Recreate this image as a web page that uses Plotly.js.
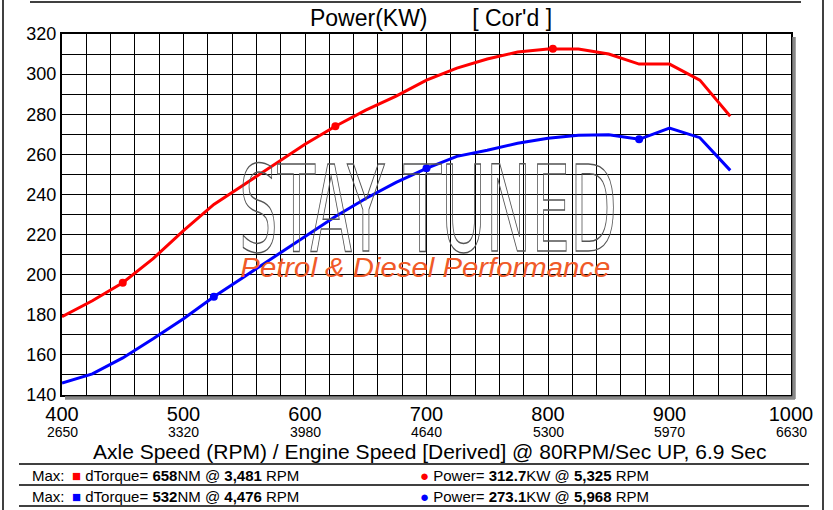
<!DOCTYPE html>
<html>
<head>
<meta charset="utf-8">
<script src="https://cdn.plot.ly/plotly-3.0.1.min.js"></script>
<style>
  html, body { margin: 0; padding: 0; background: #fff; }
  #plot { width: 833px; height: 510px; }
</style>
</head>
<body>
<div id="plot"></div>
<script>
// axle speed (rpm) where the run was sampled
var axleRpm = [400, 425, 450, 475, 500, 525, 550, 575, 600, 625, 650, 675,
               700, 725, 750, 775, 800, 825, 850, 875, 900, 925, 950];
// power (kW)
var powerRed = [179, 187, 196, 208, 222, 235, 245, 255, 265, 274, 282, 289,
                297, 303, 307.5, 311, 312.5, 312.5, 310, 305, 305, 297, 279];
// power (kW)
var powerBlue = [146, 150.5, 158.5, 168, 178, 189, 199, 209, 219, 229, 238, 246,
                 253, 259, 262, 265.5, 268, 269.5, 269.8, 267.5, 273.1, 268.3, 252];

// the dots sitting on each curve
var dotRpmRed = [450, 625, 804];
var dotKwRed = [196, 274, 312.7];
var dotRpmBlue = [525, 700, 875];
var dotKwBlue = [189, 253, 267.5];

// axis ticks
var axleTicks = [400, 500, 600, 700, 800, 900, 1000];
var engineTicks = ['2650', '3320', '3980', '4640', '5300', '5970', '6630'];
var kwTicks = [140, 160, 180, 200, 220, 240, 260, 280, 300, 320];

// max table under the chart
var maxTorque = ['658', '532'];
var maxTorqueRpm = ['3,481', '4,476'];
var maxPower = ['312.7', '273.1'];
var maxPowerRpm = ['5,325', '5,968'];
var runColors = ['#ff0000', '#0000ff'];

// plot box in pixels, used to place things outside it
var L = 62, R = 791, T = 34, B = 395;
function px(x) { return (x - L) / (R - L); }
function py(y) { return (B - y) / (B - T); }

var traces = [
  { x: axleRpm, y: powerRed, mode: 'lines', line: { color: runColors[0], width: 3 }, hoverinfo: 'skip' },
  { x: axleRpm, y: powerBlue, mode: 'lines', line: { color: runColors[1], width: 3 }, hoverinfo: 'skip' },
  { x: dotRpmRed, y: dotKwRed, mode: 'markers', marker: { color: runColors[0], size: 8 }, hoverinfo: 'skip' },
  { x: dotRpmBlue, y: dotKwBlue, mode: 'markers', marker: { color: runColors[1], size: 8 }, hoverinfo: 'skip' }
];

var font = 'Liberation Sans, Arial, sans-serif';

function note(text, x, y, size, extra) {
  var a = { text: text, x: x, y: y, xref: 'paper', yref: 'paper', xanchor: 'center', yanchor: 'middle',
            showarrow: false, font: { family: font, size: size, color: '#000' } };
  for (var k in extra) a[k] = extra[k];
  return a;
}

var annotations = [
  note('STAY TUNED', px(428), py(209), 61, { font: { family: 'DejaVu Sans, sans-serif', size: 61, color: '#666' } }),
  note('<i>Petrol &amp; Diesel Performance</i>', px(425), py(268), 27, { font: { family: font, size: 27, color: '#f05a28' } }),
  note('Axle Speed (RPM) / Engine Speed [Derived] @ 80RPM/Sec UP, 6.9 Sec', px(430), py(451), 21)
];

// engine speed printed under each axle tick
engineTicks.forEach(function (t, i) {
  annotations.push(note(t, axleTicks[i], py(432), 14, { xref: 'x' }));
});

var shapes = [
  // frame round the page
  { type: 'line', xref: 'paper', yref: 'paper', x0: px(30), x1: px(801), y0: py(2), y1: py(2), line: { color: '#000', width: 1.5 } },
  { type: 'line', xref: 'paper', yref: 'paper', x0: px(3), x1: px(3), y0: py(0), y1: py(510), line: { color: '#000', width: 1.5 } },
  { type: 'line', xref: 'paper', yref: 'paper', x0: px(823), x1: px(823), y0: py(0), y1: py(510), line: { color: '#000', width: 1.5 } },
  // shadow of the plot box
  { type: 'line', xref: 'paper', yref: 'paper', x0: px(R + 3), x1: px(R + 3), y0: py(T + 3), y1: py(B + 4), line: { color: '#888', width: 3.5 } },
  { type: 'line', xref: 'paper', yref: 'paper', x0: px(L + 3), x1: px(R + 4), y0: py(B + 3), y1: py(B + 3), line: { color: '#888', width: 3.5 } },
  // rules of the max table
  { type: 'line', xref: 'paper', yref: 'paper', x0: px(19), x1: px(809), y0: py(464), y1: py(464), line: { color: '#000', width: 1.5 } },
  { type: 'line', xref: 'paper', yref: 'paper', x0: px(19), x1: px(809), y0: py(485), y1: py(485), line: { color: '#000', width: 1.5 } },
  { type: 'line', xref: 'paper', yref: 'paper', x0: px(19), x1: px(809), y0: py(506), y1: py(506), line: { color: '#000', width: 1.5 } }
];

for (var i = 0; i < 2; i++) {
  var rowY = py(475 + i * 21);
  annotations.push(
    note('Max:', px(30), rowY, 15, { xanchor: 'left' }),
    note('<span style="color:' + runColors[i] + '">\u25A0</span> dTorque= <b>' + maxTorque[i] + '</b>NM @ <b>' +
         maxTorqueRpm[i] + '</b> RPM', px(70), rowY, 15, { xanchor: 'left' }),
    note('<span style="color:' + runColors[i] + '">\u25CF</span> Power= <b>' + maxPower[i] + '</b>KW @ <b>' +
         maxPowerRpm[i] + '</b> RPM', px(418), rowY, 15, { xanchor: 'left' })
  );
}

var layout = {
  width: 833, height: 510,
  margin: { l: L, r: 833 - R, t: T, b: 510 - B },
  paper_bgcolor: '#fff', plot_bgcolor: '#fff',
  showlegend: false,
  font: { family: font, color: '#000' },
  title: { text: 'Power(KW)\u00a0\u00a0\u00a0\u00a0\u00a0\u00a0\u00a0[ Cor\'d ]', x: px(431), xref: 'paper', xanchor: 'center',
           y: 1 - 18 / 510, yanchor: 'middle', font: { family: font, size: 23, color: '#000' } },
  xaxis: {
    range: [400, 1000], tickvals: axleTicks, ticks: '',
    tickfont: { family: font, size: 20, color: '#000' },
    showgrid: true, gridcolor: '#000', gridwidth: 1,
    minor: { dtick: 20, showgrid: true, gridcolor: '#000', gridwidth: 1 },
    showline: true, linecolor: '#000', linewidth: 2, mirror: true, zeroline: false
  },
  yaxis: {
    range: [140, 320], tickvals: kwTicks, ticks: '',
    tickfont: { family: font, size: 18, color: '#000' },
    showgrid: true, gridcolor: '#000', gridwidth: 1,
    minor: { dtick: 10, showgrid: true, gridcolor: '#000', gridwidth: 1 },
    showline: true, linecolor: '#000', linewidth: 2, mirror: true, zeroline: false
  },
  shapes: shapes,
  annotations: annotations
};

Plotly.newPlot('plot', traces, layout, { staticPlot: true }).then(function (gd) {
  gd.querySelectorAll('.annotation-text').forEach(function (t) {
    if (t.textContent === 'STAY TUNED') {
      // watermark: outlined letters stretched tall like the logo
      var bb = t.getBBox();
      var cy = bb.y + bb.height / 2, k = 1.95;
      t.setAttribute('transform', 'translate(0,' + (cy * (1 - k)) + ') scale(1,' + k + ')');
      t.style.fill = 'none';
      t.style.stroke = '#555';
      t.style.strokeWidth = '1.2px';
      t.style.vectorEffect = 'non-scaling-stroke';
    } else if (t.textContent.indexOf('Petrol') === 0) {
      t.setAttribute('textLength', 370);
      t.setAttribute('lengthAdjust', 'spacingAndGlyphs');
    }
  });
});
</script>
</body>
</html>
